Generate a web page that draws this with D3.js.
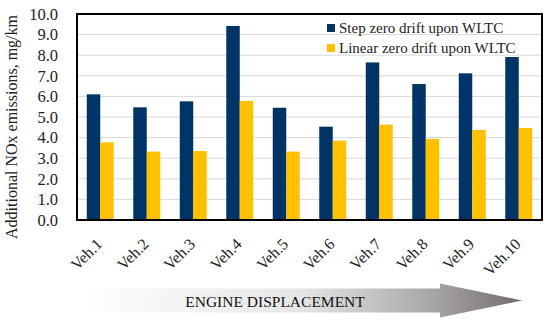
<!DOCTYPE html>
<html><head><meta charset="utf-8">
<script src="https://cdn.jsdelivr.net/npm/d3@7"></script>
<style>body{margin:0;background:#fff}svg{display:block}</style>
</head><body>
<script>
const categories = ["Veh.1","Veh.2","Veh.3","Veh.4","Veh.5","Veh.6","Veh.7","Veh.8","Veh.9","Veh.10"];
const stepDrift = [6.1, 5.47, 5.76, 9.42, 5.45, 4.53, 7.65, 6.6, 7.12, 7.91];
const linearDrift = [3.77, 3.32, 3.35, 5.78, 3.32, 3.85, 4.63, 3.93, 4.37, 4.47];
const seriesNames = ["Step zero drift upon WLTC", "Linear zero drift upon WLTC"];
const colors = ["#003366", "#FFC000"];
const yTicks = [0,1,2,3,4,5,6,7,8,9,10];

const W = 550, H = 327;
const m = {l: 77, r: 8, t: 14, b: 107};
const svg = d3.select("body").append("svg").attr("width", W).attr("height", H);
const font = "'Liberation Serif', 'Times New Roman', serif";

const x = d3.scaleBand().domain(categories).range([m.l, W - m.r]).paddingInner(0.42).paddingOuter(0.21);
const x1 = d3.scaleBand().domain([0,1]).range([0, x.bandwidth()]);
const y = d3.scaleLinear().domain([0, 10]).range([H - m.b, m.t]);

// gridlines
svg.append("g").selectAll("line").data(yTicks.slice(1, -1)).join("line")
  .attr("x1", m.l).attr("x2", W - m.r)
  .attr("y1", d => y(d)).attr("y2", d => y(d))
  .attr("stroke", "#d9d9d9").attr("stroke-width", 1);

// bars
const data = categories.map((c, i) => ({c, v: [stepDrift[i], linearDrift[i]]}));
const g = svg.append("g").selectAll("g").data(data).join("g")
  .attr("transform", d => `translate(${x(d.c)},0)`);
g.selectAll("rect").data(d => d.v.map((v, k) => ({v, k}))).join("rect")
  .attr("x", d => x1(d.k)).attr("width", x1.bandwidth())
  .attr("y", d => y(d.v)).attr("height", d => y(0) - y(d.v))
  .attr("fill", d => colors[d.k]);

// frame
svg.append("rect").attr("x", m.l).attr("y", m.t)
  .attr("width", W - m.r - m.l).attr("height", H - m.b - m.t)
  .attr("fill", "none").attr("stroke", "#000").attr("stroke-width", 2);

// y axis
const ya = svg.append("g").attr("transform", `translate(${m.l},0)`)
  .call(d3.axisLeft(y).tickValues(yTicks).tickFormat(d3.format(".1f")).tickSize(0).tickPadding(19));
ya.select(".domain").remove();
ya.selectAll("text").attr("font-family", font).attr("font-size", 16.5).attr("fill", "#222");

// x axis labels
const xa = svg.append("g").attr("transform", `translate(0,${H - m.b})`)
  .call(d3.axisBottom(x).tickSize(0).tickPadding(0));
xa.select(".domain").remove();
xa.selectAll("text")
  .attr("font-family", font).attr("font-size", 16).attr("fill", "#222")
  .attr("text-anchor", "end").attr("dy", 0).attr("y", 0)
  .attr("transform", "translate(3,25) rotate(-45)");

// y title
svg.append("text")
  .attr("transform", `translate(17,127) rotate(-90)`)
  .attr("text-anchor", "middle").attr("font-family", font).attr("font-size", 16).attr("fill", "#222")
  .text("Additional NOx emissions, mg/km");

// legend
const lg = svg.append("g").attr("transform", "translate(327,24)");
seriesNames.forEach((s, i) => {
  lg.append("rect").attr("x", 0).attr("y", i * 20).attr("width", 8).attr("height", 8).attr("fill", colors[i]);
  lg.append("text").attr("x", 12).attr("y", i * 20 + 9)
    .attr("font-family", font).attr("font-size", 15).attr("fill", "#222").text(s);
});

// arrow
const defs = svg.append("defs");
const grad = defs.append("linearGradient").attr("id", "ag").attr("gradientUnits", "userSpaceOnUse")
  .attr("x1", 80).attr("x2", 522).attr("y1", 0).attr("y2", 0);
grad.append("stop").attr("offset", 0).attr("stop-color", "#ffffff");
grad.append("stop").attr("offset", 0.5).attr("stop-color", "#e6e6e6");
grad.append("stop").attr("offset", 0.8).attr("stop-color", "#a8a5a5");
grad.append("stop").attr("offset", 1).attr("stop-color", "#726d6d");
svg.append("path")
  .attr("d", "M80,288.5 L440,288.5 L440,283.5 L522,300.5 L440,317.5 L440,312.5 L80,312.5 Z")
  .attr("fill", "url(#ag)");
svg.append("text").attr("x", 275).attr("y", 306.5).attr("text-anchor", "middle")
  .attr("font-family", font).attr("font-size", 15.5).attr("fill", "#111")
  .text("ENGINE DISPLACEMENT");
</script>
</body></html>
